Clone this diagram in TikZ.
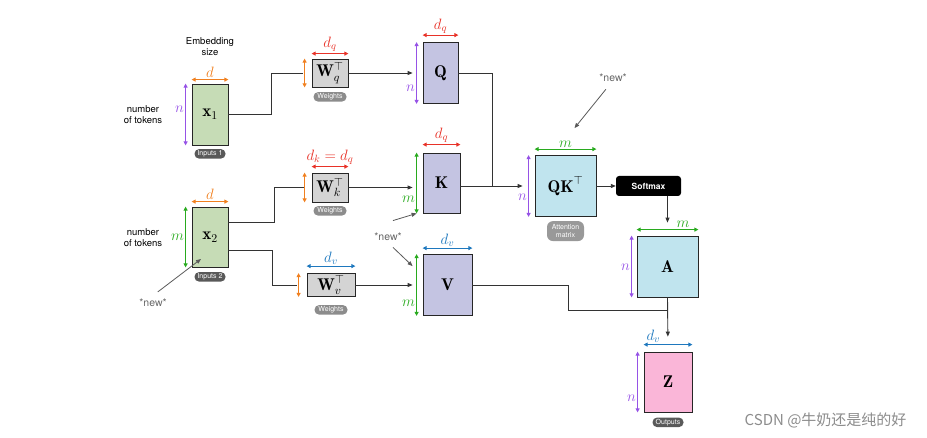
\RequirePackage{fix-cm}
\documentclass[tikz,border=0pt]{standalone}
\usepackage{fontspec}
\setsansfont{TeX Gyre Heros}
\newfontfamily\cjkfont{Noto Sans CJK SC}
\usetikzlibrary{arrows.meta,positioning}
\definecolor{dorange}{RGB}{240,128,32}
\definecolor{dpurple}{RGB}{150,82,230}
\definecolor{dgreen}{RGB}{40,170,30}
\definecolor{dred}{RGB}{232,50,40}
\definecolor{dblue}{RGB}{30,120,190}
\definecolor{xfill}{RGB}{198,220,182}
\definecolor{wfill}{RGB}{212,212,212}
\definecolor{qfill}{RGB}{196,196,226}
\definecolor{afill}{RGB}{192,228,238}
\definecolor{zfill}{RGB}{250,182,216}
\begin{document}
\begin{tikzpicture}[x=1pt, y=-1pt,
  mat/.style = {draw=black!85, line width=0.8pt, inner sep=0pt,
    font=\fontsize{17}{17}\selectfont},
  pill/.style = {rounded corners=4.5pt, fill=black!65, text=white, align=center,
    font=\sffamily\fontsize{7}{7.5}\selectfont, inner xsep=2pt, inner ysep=1pt,
    minimum height=9.5pt, minimum width=31pt},
  dim/.style = {<->, line width=0.9pt, >={Triangle[length=4pt,width=4pt]}},
  lab/.style = {font=\fontsize{15}{15}\selectfont, inner sep=1.2pt},
  conn/.style = {line width=0.9pt, draw=black!80, >={Triangle[length=5pt,width=4pt]}},
  newarr/.style = {->, line width=0.8pt, draw=black!65, >={Triangle[length=5pt,width=4pt]}},
  note/.style = {font=\sffamily\fontsize{9.5}{11}\selectfont, align=center},
  newtxt/.style = {font=\sffamily\fontsize{10.5}{11}\selectfont, text=black!60}]
  \useasboundingbox (0,0) rectangle (927,438);

  % input matrices
  \node[mat, fill=xfill, minimum width=36pt, minimum height=61pt] (x1) at (210,114.5) {$\mathbf{x}_1$};
  \node[mat, fill=xfill, minimum width=36pt, minimum height=60pt] (x2) at (210,237) {$\mathbf{x}_2$};
  \node[pill, below=3.5pt of x1] (in1) {Inputs 1};
  \node[pill, below=4.5pt of x2] (in2) {Inputs 2};
  \node[note] (emb) at (210,46.5) {Embedding\\size};
  \node[note] (tok1) at (143,114.5) {number\\of tokens};
  \node[note] (tok2) at (143,237.5) {number\\of tokens};

  % weight matrices
  \node[mat, fill=wfill, minimum width=36pt, minimum height=28pt] (Wq) at (330,73) {$\mathbf{W}_q^\top$};
  \node[mat, fill=wfill, minimum width=36pt, minimum height=29pt] (Wk) at (330,187.5) {$\mathbf{W}_k^\top$};
  \node[mat, fill=wfill, minimum width=48pt, minimum height=23pt] (Wv) at (331,285) {$\mathbf{W}_v^\top$};
  \node[pill, fill=black!45, minimum width=33pt, below=4.5pt of Wq] (wq) {Weights};
  \node[pill, fill=black!45, minimum width=33pt, below=3.5pt of Wk] (wk) {Weights};
  \node[pill, fill=black!45, minimum width=33pt, below=8pt of Wv] (wv) {Weights};

  % queries, keys, values
  \node[mat, fill=qfill, minimum width=35pt, minimum height=61pt] (Q) at (440.5,73) {$\mathbf{Q}$};
  \node[mat, fill=qfill, minimum width=37pt, minimum height=60pt] (K) at (441.5,183) {$\mathbf{K}$};
  \node[mat, fill=qfill, minimum width=49pt, minimum height=61pt] (V) at (447.5,285) {$\mathbf{V}$};

  % attention
  \node[mat, fill=afill, minimum width=61pt, minimum height=61pt] (QK) at (565.5,186) {$\mathbf{QK}^\top$};
  \node[pill, fill=black!40, minimum width=37pt, minimum height=20pt, rounded corners=6pt, below=4pt of QK] (att) {Attention\\matrix};
  \node[rounded corners=3pt, fill=black, text=white, minimum width=65pt, minimum height=20pt,
    font=\sffamily\bfseries\fontsize{8.5}{9}\selectfont] (soft) at (648.5,186) {Softmax};
  \node[mat, fill=afill, minimum width=61pt, minimum height=61pt] (A) at (667.5,266.5) {$\mathbf{A}$};
  \node[mat, fill=zfill, minimum width=48pt, minimum height=60pt] (Z) at (668,382) {$\mathbf{Z}$};
  \node[pill, below=5pt of Z] (out) {Outputs};

  % *new* notes
  \node[newtxt] (new1) at (153,303) {*new*};
  \node[newtxt] (new2) at (388,237) {*new*};
  \node[newtxt] (new3) at (613,78) {*new*};

  % connectors
  \draw[conn] (x1.east) -- ++(43,0) |- ([xshift=-9pt]Wq.west);
  \draw[conn] ([yshift=15pt]x2.east) -- ++(46,0) |- ([xshift=-8pt]Wk.west);
  \draw[conn] ([yshift=-13pt]x2.east) -- ++(44,0) |- ([xshift=-10pt]Wv.west);
  \draw[conn, ->, shorten >=10pt] (Wq.east) -- (Wq.east -| Q.west);
  \draw[conn, ->, shorten >=10pt] (Wk.east) -- (Wk.east -| K.west);
  \draw[conn, ->, shorten >=10pt] (Wv.east) -- (Wv.east -| V.west);
  \coordinate (qkj) at (492,186);
  \draw[conn] (Q.east) -| (qkj);
  \draw[conn, ->, shorten >=12pt] (K.east |- qkj) -- (qkj -| QK.west);
  \draw[conn, ->] (QK.east) -- (soft.west);
  \draw[conn, ->, shorten >=13pt] (A.north |- soft.south) -- (A.north);
  \coordinate (vz) at (668,310);
  \draw[conn] (V.east) -- ++(96,0) |- (vz);
  \draw[conn, ->, shorten >=15pt] (A.south) -- (Z.north);

  % new arrows
  \draw[newarr, shorten <=6pt] (new1.north) -- ([shift={(-9pt,-22pt)}]x2.center);
  \draw[newarr] ([shift={(5pt,9pt)}]new2.north) -- ([xshift=-6pt]K.south west);
  \draw[newarr] ([shift={(5pt,-3pt)}]new2.south) -- ([shift={(-10pt,-12pt)}]V.north west);
  \draw[newarr, shorten <=5pt] ([xshift=-4pt]new3.south) -- ([shift={(9pt,27pt)}]QK.north);

  % dimensions
  \draw[dim, dorange] ([yshift=4pt]x1.north west) -- ([yshift=4pt]x1.north east) node[lab, midway, above] {$d$};
  \draw[dim, dpurple] ([xshift=-6pt]x1.north west) -- ([xshift=-6pt]x1.south west) node[lab, pos=0.41, left] {$n$};
  \draw[dim, dorange] ([yshift=5pt]x2.north west) -- ([yshift=5pt]x2.north east) node[lab, midway, above] {$d$};
  \draw[dim, dgreen] ([xshift=-6pt]x2.north west) -- ([xshift=-6pt]x2.south west) node[lab, midway, left] {$m$};

  \draw[dim, dred] ([yshift=5pt]Wq.north west) -- ([yshift=5pt]Wq.north east) node[lab, midway, above] {$d_q$};
  \draw[dim, dorange] ([xshift=-7pt]Wq.north west) -- ([xshift=-7pt]Wq.south west);
  \draw[dim, dred] ([yshift=6pt]Wk.north west) -- ([yshift=6pt]Wk.north east) node[lab, midway, above] {$d_k = d_q$};
  \draw[dim, dorange] ([xshift=-7pt]Wk.north west) -- ([xshift=-7pt]Wk.south west);
  \draw[dim, dblue] ([yshift=7pt]Wv.north west) -- ([yshift=7pt]Wv.north east) node[lab, midway, above] {$d_v$};
  \draw[dim, dorange] ([xshift=-8pt]Wv.north west) -- ([xshift=-8pt]Wv.south west);

  \draw[dim, dred] ([yshift=7pt]Q.north west) -- ([yshift=7pt]Q.north east) node[lab, midway, above] {$d_q$};
  \draw[dim, dpurple] ([xshift=-6pt]Q.north west) -- ([xshift=-6pt]Q.south west) node[lab, pos=0.74, left] {$n$};
  \draw[dim, dred] ([yshift=8pt]K.north west) -- ([yshift=8pt]K.north east) node[lab, midway, above] {$d_q$};
  \draw[dim, dgreen] ([xshift=-6pt]K.north west) -- ([xshift=-6pt]K.south west) node[lab, pos=0.77, left] {$m$};
  \draw[dim, dblue] ([yshift=6pt]V.north west) -- ([yshift=6pt]V.north east) node[lab, midway, above] {$d_v$};
  \draw[dim, dgreen] ([xshift=-6pt]V.north west) -- ([xshift=-6pt]V.south west) node[lab, pos=0.79, left] {$m$};

  \draw[dim, dgreen] ([yshift=6pt]QK.north west) -- ([yshift=6pt]QK.north east) node[lab, midway, above] {$m$};
  \draw[dim, dpurple] ([xshift=-6pt]QK.north west) -- ([xshift=-6pt]QK.south west) node[lab, pos=0.69, left] {$n$};
  \draw[dim, dgreen] ([yshift=6pt]A.north west) -- ([yshift=6pt]A.north east) node[lab, pos=0.75, above] {$m$};
  \draw[dim, dpurple] ([xshift=-5pt]A.north west) -- ([xshift=-5pt]A.south west) node[lab, pos=0.52, left] {$n$};
  \draw[dim, dblue] ([yshift=7pt]Z.north west) -- ([yshift=7pt]Z.north east) node[lab, pos=0.2, above] {$d_v$};
  \draw[dim, dpurple] ([xshift=-6pt]Z.north west) -- ([xshift=-6pt]Z.south west) node[lab, pos=0.77, left] {$n$};

  % watermark
  \node[anchor=east, text=black!45, font=\cjkfont\fontsize{15}{16}\selectfont] (mark) at (910,420) {CSDN @牛奶还是纯的好};
\end{tikzpicture}
\end{document}
